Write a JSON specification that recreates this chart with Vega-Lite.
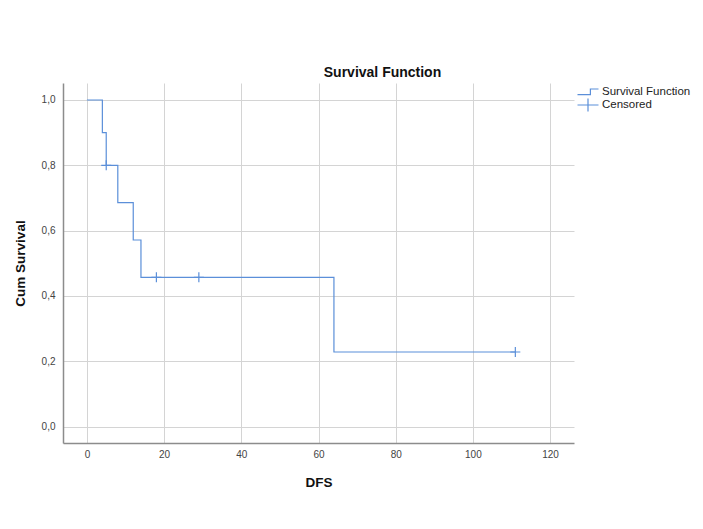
{
  "$schema": "https://vega.github.io/schema/vega-lite/v6.json",
  "autosize": {"type": "none"},
  "width": 511,
  "height": 360,
  "padding": {"left": 63, "top": 83, "right": 129, "bottom": 86},
  "background": "white",
  "title": {"text": "Survival Function", "anchor": "middle", "dx": 64, "offset": 3, "fontSize": 14, "font": "Liberation Sans", "fontWeight": "bold", "color": "#111"},
  "datasets": {
    "curve": [
      {"DFS": 0, "survival": 1.0},
      {"DFS": 4, "survival": 0.9},
      {"DFS": 5, "survival": 0.8},
      {"DFS": 8, "survival": 0.6857},
      {"DFS": 12, "survival": 0.5714},
      {"DFS": 14, "survival": 0.4571},
      {"DFS": 64, "survival": 0.2286},
      {"DFS": 111, "survival": 0.2286}
    ],
    "censored": [
      {"DFS": 5, "survival": 0.8},
      {"DFS": 18, "survival": 0.4571},
      {"DFS": 29, "survival": 0.4571},
      {"DFS": 111, "survival": 0.2286}
    ]
  },
  "config": {
    "view": {"stroke": null},
    "font": "Liberation Sans",
    "axis": {
      "gridColor": "#d4d4d4",
      "gridWidth": 1,
      "domainColor": "#8c8c8c",
      "domainWidth": 1.5,
      "ticks": false,
      "labelFontSize": 10,
      "labelColor": "#444",
      "labelFont": "Liberation Sans",
      "titleFont": "Liberation Sans",
      "titleFontSize": 13.5,
      "titleFontWeight": "bold",
      "titleColor": "#111"
    }
  },
  "layer": [
    {
      "data": {"name": "curve"},
      "mark": {"type": "line", "interpolate": "step-after", "strokeWidth": 1.2},
      "encoding": {
        "x": {"field": "DFS", "type": "quantitative", "scale": {"domain": [-6.2, 126.2], "nice": false, "zero": false},
          "axis": {"values": [0, 20, 40, 60, 80, 100, 120], "title": "DFS", "labelPadding": 6, "titlePadding": 16}},
        "y": {"field": "survival", "type": "quantitative", "scale": {"domain": [-0.05, 1.052], "nice": false, "zero": false},
          "axis": {"values": [0, 0.2, 0.4, 0.6, 0.8, 1.0], "title": "Cum Survival", "labelExpr": "replace(format(datum.value, '.1f'), '.', ',')", "labelPadding": 8, "titlePadding": 14}},
        "color": {"datum": "Survival Function", "type": "nominal",
          "scale": {"domain": ["Survival Function", "Censored"], "range": ["#5b8fd9", "#5b8fd9"]},
          "legend": {
            "title": null, "orient": "none", "legendX": 518, "legendY": 2,
            "symbolSize": 144, "labelFontSize": 11.5, "labelColor": "#222", "labelOffset": 7, "rowPadding": -3, "labelFont": "Liberation Sans",
            "encode": {"symbols": {"update": {
              "shape": {"signal": "datum.label === 'Censored' ? 'M-1.75,0H1.75M0,-1.1V1.1' : 'M-1.75,0.45H0.4V-0.5H1.75'"},
              "stroke": {"value": "#5b8fd9"}, "fill": {"value": "transparent"}, "strokeWidth": {"value": 1.2}, "opacity": {"value": 1}
            }}}
          }}
      }
    },
    {
      "data": {"name": "censored"},
      "mark": {"type": "point", "shape": "M-1,0H1M0,-1V1", "filled": false, "size": 100, "strokeWidth": 1.2, "opacity": 1},
      "encoding": {
        "x": {"field": "DFS", "type": "quantitative"},
        "y": {"field": "survival", "type": "quantitative"},
        "color": {"datum": "Censored", "type": "nominal"}
      }
    }
  ]
}
